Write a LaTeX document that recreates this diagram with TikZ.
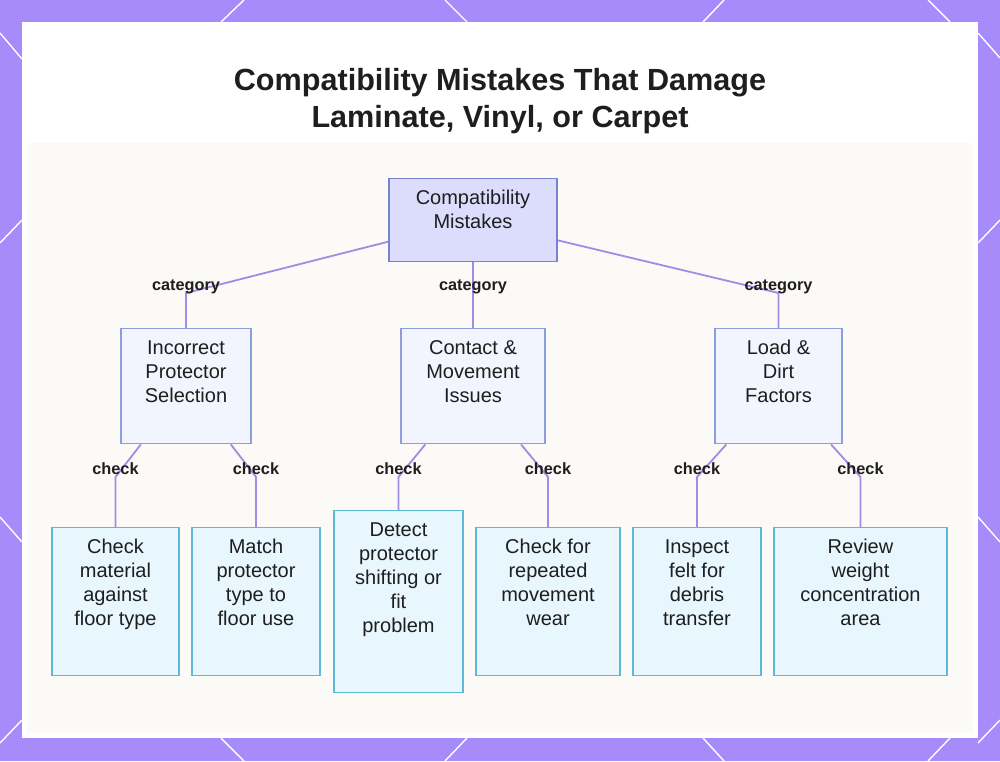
\documentclass[tikz,border=0pt]{standalone}
\usepackage{fontspec}
\setmainfont{Liberation Sans}
\usepackage{tikz}

\definecolor{frame}{RGB}{167,139,250}
\definecolor{ink}{RGB}{30,30,30}
\definecolor{linkc}{RGB}{160,140,228}
\definecolor{haze}{RGB}{252,250,247}
\definecolor{rootfill}{RGB}{220,221,252}
\definecolor{rootline}{RGB}{118,132,206}
\definecolor{midfill}{RGB}{243,245,254}
\definecolor{midline}{RGB}{140,158,220}
\definecolor{leaffill}{RGB}{232,247,253}
\definecolor{leafline}{RGB}{92,186,214}

\newcommand{\boxtext}[3]{\parbox[c][#1][t]{#2}{\centering\vspace*{9pt}\strut#3}}

\begin{document}
\begin{tikzpicture}[x=1pt,y=-1pt,
    link/.style={draw=linkc,line width=1.8pt},
    lbl/.style={font=\bfseries\fontsize{16.3}{18}\selectfont,text=ink,inner sep=0pt},
    boxbase/.style={anchor=north,inner sep=0pt,line width=1.4pt,text=ink,font=\fontsize{20}{24}\selectfont},
    rootbox/.style={boxbase,fill=rootfill,draw=rootline},
    midbox/.style={boxbase,fill=midfill,draw=midline},
    leafbox/.style={boxbase,fill=leaffill,draw=leafline}]
    \useasboundingbox (0,0) rectangle (1000,761);
    \fill[frame] (0,0) rectangle (1000,761);
    \draw[white,line width=1.4pt]
        (244,0) -- (221,22)  (445,0) -- (467,22)  (724,0) -- (703,22)  (928,0) -- (950,22)
        (221,738) -- (244,761)  (467,738) -- (445,761)  (703,738) -- (724,761)  (950,738) -- (928,761)
        (0,33) -- (22,59)  (22,220) -- (0,243)  (0,517) -- (22,542)  (22,720) -- (0,743)
        (978,33) -- (1000,58)  (978,243) -- (1000,220)  (978,517) -- (1000,542)  (978,743) -- (1000,720);
    \fill[white] (22,22) rectangle (978,738);
    \fill[haze] (27,143) rectangle (973,733);

    \node[font=\bfseries\fontsize{30.6}{37}\selectfont,align=center,text=ink] (title) at (500,101)
        {Compatibility Mistakes That Damage\\Laminate, Vinyl, or Carpet};

    \node[rootbox] (root) at (473,178) {\boxtext{83pt}{168pt}{Compatibility\\Mistakes}};

    \node[midbox] (inc) at (186,328) {\boxtext{115pt}{130pt}{Incorrect\\Protector\\Selection}};
    \node[midbox] (con) at (473,328) {\boxtext{115pt}{144pt}{Contact \&\\Movement\\Issues}};
    \node[midbox] (load) at (778.5,328) {\boxtext{115pt}{127pt}{Load \&\\Dirt\\Factors}};

    \node[leafbox] (mat) at (115.5,527) {\boxtext{148pt}{127pt}{Check\\material\\against\\floor type}};
    \node[leafbox] (use) at (256,527) {\boxtext{148pt}{128pt}{Match\\protector\\type to\\floor use}};
    \node[leafbox] (shift) at (398.5,510) {\boxtext{182pt}{129pt}{Detect\\protector\\shifting or\\fit\\problem}};
    \node[leafbox] (wear) at (548,527) {\boxtext{148pt}{144pt}{Check for\\repeated\\movement\\wear}};
    \node[leafbox] (felt) at (697,527) {\boxtext{148pt}{128pt}{Inspect\\felt for\\debris\\transfer}};
    \node[leafbox] (weight) at (860.5,527) {\boxtext{148pt}{173pt}{Review\\weight\\concentration\\area}};

    \draw[link] (root) -- ([yshift=35pt]inc.north) node[lbl,yshift=6pt] {category} -- (inc);
    \draw[link] (root) -- ([yshift=35pt]con.north) node[lbl,yshift=6pt] {category} -- (con);
    \draw[link] (root) -- ([yshift=35pt]load.north) node[lbl,yshift=6pt] {category} -- (load);

    \draw[link] (inc) -- ([yshift=50pt]mat.north) node[lbl,yshift=8pt] {check} -- (mat);
    \draw[link] (inc) -- ([yshift=50pt]use.north) node[lbl,yshift=8pt] {check} -- (use);
    \draw[link] (con) -- ([yshift=33pt]shift.north) node[lbl,yshift=8pt] {check} -- (shift);
    \draw[link] (con) -- ([yshift=50pt]wear.north) node[lbl,yshift=8pt] {check} -- (wear);
    \draw[link] (load) -- ([yshift=50pt]felt.north) node[lbl,yshift=8pt] {check} -- (felt);
    \draw[link] (load) -- ([yshift=50pt]weight.north) node[lbl,yshift=8pt] {check} -- (weight);
\end{tikzpicture}
\end{document}
